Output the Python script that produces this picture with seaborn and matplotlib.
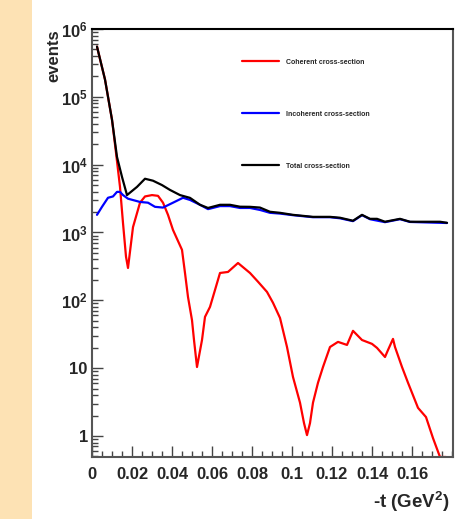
import seaborn as sns
import matplotlib.pyplot as plt
import matplotlib.ticker as mticker
from matplotlib.patches import Rectangle
import pandas as pd

# coherent cross-section (red)
coh_t = [0.0025, 0.0065, 0.010, 0.012, 0.014, 0.0155, 0.017, 0.018, 0.0205, 0.024,
         0.0265, 0.030, 0.033, 0.0355, 0.038, 0.0405, 0.045, 0.0465, 0.048, 0.050,
         0.051, 0.0525, 0.055, 0.0565, 0.059, 0.0615, 0.064, 0.068, 0.073, 0.079,
         0.083, 0.0875, 0.0905, 0.094, 0.0975, 0.1005, 0.104, 0.106, 0.1075, 0.109,
         0.1105, 0.113, 0.1155, 0.119, 0.123, 0.1275, 0.1305, 0.135, 0.140, 0.1425,
         0.1465, 0.148, 0.1505, 0.1515, 0.155, 0.158, 0.163, 0.167, 0.1705, 0.174, 0.177]
coh_ev = [5.5e5, 1.8e5, 4.6e4, 1.5e4, 4700, 1380, 440, 300, 1200, 2750,
          3400, 3560, 3470, 2750, 1820, 1090, 555, 253, 112, 51,
          26, 10.4, 26, 57, 80, 142, 253, 262, 355, 253,
          188, 133, 92, 55, 20.5, 7.4, 3.1, 1.55, 1.03, 1.55,
          3.1, 6.1, 10.4, 20.5, 24.4, 22, 35.5, 26, 22.8, 19.9,
          14.6, 18.5, 27, 20.5, 10.4, 6.1, 2.6, 1.9, 0.93, 0.49, 0.49]

# incoherent cross-section (blue)
inc_t = [0.0025, 0.005, 0.008, 0.0105, 0.0125, 0.014, 0.0155, 0.018, 0.024, 0.028,
         0.0315, 0.0355, 0.0405, 0.0455, 0.049, 0.054, 0.058, 0.064, 0.069, 0.074,
         0.079, 0.084, 0.089, 0.094, 0.1005, 0.1105, 0.119, 0.124, 0.1305, 0.135,
         0.139, 0.1465, 0.154, 0.159, 0.1775]
inc_ev = [1820, 2390, 3250, 3400, 3970, 3970, 3560, 3150, 2820, 2750,
          2390, 2330, 2750, 3250, 3020, 2560, 2210, 2450, 2450, 2300,
          2300, 2150, 1950, 1900, 1800, 1680, 1680, 1620, 1470, 1800,
          1570, 1420, 1570, 1430, 1380]

# total cross-section (black)
tot_t = [0.0025, 0.0065, 0.010, 0.0125, 0.015, 0.0175, 0.0225, 0.0265, 0.0305, 0.035,
         0.039, 0.044, 0.049, 0.054, 0.058, 0.064, 0.069, 0.074, 0.079, 0.084,
         0.089, 0.094, 0.1005, 0.1105, 0.119, 0.124, 0.1305, 0.135, 0.139, 0.1425,
         0.1465, 0.154, 0.159, 0.174, 0.1775]
tot_ev = [5.5e5, 1.8e5, 4.6e4, 1.3e4, 6600, 3560, 4700, 6200, 5800, 5000,
          4240, 3560, 3240, 2560, 2300, 2560, 2560, 2400, 2390, 2330,
          2020, 1950, 1820, 1700, 1700, 1650, 1490, 1820, 1590, 1590,
          1440, 1590, 1440, 1440, 1390]

x_ticks = [0, 0.02, 0.04, 0.06, 0.08, 0.1, 0.12, 0.14, 0.16]
y_ticks = [1, 10, 100, 1e3, 1e4, 1e5, 1e6]
y_labels = ["1", "10", r"$10^{2}$", r"$10^{3}$", r"$10^{4}$", r"$10^{5}$", r"$10^{6}$"]

sns.set_theme(style="white")
plt.rcParams['font.family'] = ['Liberation Sans', 'DejaVu Sans']
plt.rcParams['font.weight'] = 'bold'
plt.rcParams['mathtext.fontset'] = 'custom'
plt.rcParams['mathtext.rm'] = 'Liberation Sans:bold'
plt.rcParams['mathtext.bf'] = 'Liberation Sans:bold'
plt.rcParams['mathtext.default'] = 'rm'

fig = plt.figure(figsize=(4.72, 5.19), dpi=100)
fig.patches.append(Rectangle((0, 0), 32 / 472, 1, transform=fig.transFigure,
                             facecolor='#fde2b4', edgecolor='none', zorder=-1))
ax = fig.add_axes([92 / 472, 1 - 457 / 519, 361 / 472, 428 / 519])

series = [("Coherent cross-section", coh_t, coh_ev, "red"),
          ("Incoherent cross-section", inc_t, inc_ev, "blue"),
          ("Total cross-section", tot_t, tot_ev, "black")]
for name, t, ev, col in series:
    df = pd.DataFrame({"t": t, "events": ev})
    sns.lineplot(data=df, x="t", y="events", color=col, lw=1.6, label=name,
                 sort=False, estimator=None, ax=ax)

ax.set_yscale('log')
ax.set_xlim(0, 0.1805)
ax.set_ylim(0.49, 1e6)

ax.xaxis.set_major_locator(mticker.FixedLocator(x_ticks))
ax.xaxis.set_major_formatter(mticker.FixedFormatter([f"{v:g}" for v in x_ticks]))
ax.xaxis.set_minor_locator(mticker.MultipleLocator(0.005))
ax.yaxis.set_major_locator(mticker.FixedLocator(y_ticks))
ax.yaxis.set_major_formatter(mticker.FixedFormatter(y_labels))
ax.yaxis.set_minor_locator(mticker.LogLocator(base=10, subs=range(2, 10)))
ax.yaxis.set_minor_formatter(mticker.NullFormatter())

ax.tick_params(which='both', direction='in', color='#444444', width=1.0,
               left=True, bottom=True, top=False, right=False)
ax.tick_params(which='major', length=8)
ax.tick_params(which='minor', length=4)
ax.tick_params(axis='x', which='major', pad=7, labelsize=12)
ax.tick_params(axis='y', which='major', pad=3, labelsize=12)

for side in ['left', 'bottom', 'right']:
    ax.spines[side].set_color('#555555')
    ax.spines[side].set_linewidth(1.5)
ax.spines['top'].set_color('black')
ax.spines['top'].set_linewidth(1.5)

ax.set_xlabel(r"-t (GeV$^{2}$)", fontsize=13.5, fontweight='bold', ha='right', va='top')
ax.xaxis.set_label_coords(0.992, -0.077)
ax.set_ylabel("events", fontsize=12, fontweight='bold', ha='right')
ax.yaxis.set_label_coords(-0.085, 1.0)

ax.legend(loc='upper left', bbox_to_anchor=(0.407, 0.939), frameon=False,
          fontsize=5, borderpad=0, handlelength=5.3, handletextpad=1.0,
          labelspacing=6.5)

plt.savefig('out.png', dpi=100)
